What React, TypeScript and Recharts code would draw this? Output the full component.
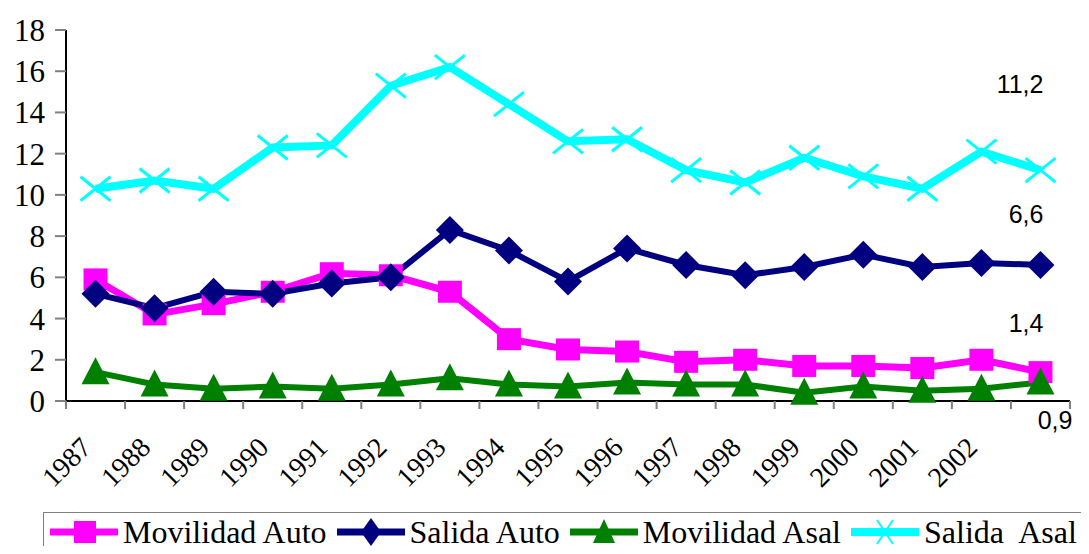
import { LineChart, Line, XAxis, YAxis, LabelList } from 'recharts'

// categories (last one has no printed label)
const years = ['1987', '1988', '1989', '1990', '1991', '1992', '1993', '1994', '1995', '1996', '1997', '1998', '1999', '2000', '2001', '2002', '']

const movilidadAuto = [5.9, 4.2, 4.7, 5.3, 6.2, 6.1, 5.3, 3.0, 2.5, 2.4, 1.9, 2.0, 1.7, 1.7, 1.6, 2.0, 1.4]
const salidaAuto = [5.2, 4.5, 5.3, 5.2, 5.7, 6.0, 8.3, 7.3, 5.8, 7.4, 6.6, 6.1, 6.5, 7.1, 6.5, 6.7, 6.6]
const movilidadAsal = [1.4, 0.8, 0.6, 0.7, 0.6, 0.8, 1.1, 0.8, 0.7, 0.9, 0.8, 0.8, 0.4, 0.7, 0.5, 0.6, 0.9]
const salidaAsal = [10.3, 10.7, 10.3, 12.3, 12.4, 15.3, 16.2, 14.4, 12.6, 12.7, 11.2, 10.6, 11.8, 10.9, 10.3, 12.1, 11.2]

const yTicks = [0, 2, 4, 6, 8, 10, 12, 14, 16, 18]
const xBounds = years.map((_, i) => i).concat(years.length)

const data = years.map((year, i) => ({
  pos: i + 0.5,
  year,
  movilidadAuto: movilidadAuto[i],
  salidaAuto: salidaAuto[i],
  movilidadAsal: movilidadAsal[i],
  salidaAsal: salidaAsal[i],
}))

const last = years.length - 1
const fmt = (v: number) => String(v).replace('.', ',')
const SERIF = '"Liberation Serif", "Times New Roman", serif'
const SANS = '"Liberation Sans", Arial, sans-serif'

function XTick(props: any) {
  const { x, y, payload } = props
  const label = years[payload.value] || ''
  if (!label) return null
  return (
    <text
      x={0}
      y={0}
      transform={`translate(${x + 27},${y + 38}) rotate(-45)`}
      textAnchor="end"
      fontFamily={SERIF}
      fontSize={28}
      fill="#000"
    >
      {label}
    </text>
  )
}

function YTick(props: any) {
  const { x, y, payload } = props
  return (
    <text x={x} y={y} dy={11} textAnchor="end" fontFamily={SERIF} fontSize={31} fill="#000">
      {payload.value}
    </text>
  )
}

const SquareDot = (p: any) => (
  <rect key={`sq-${p.index}`} x={p.cx - 12} y={p.cy - 11} width={24} height={22} fill="#FF00FF" />
)
const DiamondDot = (p: any) => (
  <polygon
    key={`dm-${p.index}`}
    points={`${p.cx},${p.cy - 14} ${p.cx + 14},${p.cy} ${p.cx},${p.cy + 14} ${p.cx - 14},${p.cy}`}
    fill="#000080"
  />
)
const TriangleDot = (p: any) => (
  <polygon
    key={`tr-${p.index}`}
    points={`${p.cx},${p.cy - 15} ${p.cx + 14},${p.cy + 12} ${p.cx - 14},${p.cy + 12}`}
    fill="#008000"
  />
)
const CrossDot = (p: any) => (
  <g key={`x-${p.index}`} stroke="#00FFFF" strokeWidth={3}>
    <line x1={p.cx - 15} y1={p.cy - 12} x2={p.cx + 15} y2={p.cy + 12} />
    <line x1={p.cx - 15} y1={p.cy + 12} x2={p.cx + 15} y2={p.cy - 12} />
  </g>
)

// value label on the final point of each series
const endLabel = (dx: number, dy: number) => (p: any) => {
  if (p.index !== last) return null
  return (
    <text x={p.x + dx} y={p.y + dy} textAnchor="end" fontFamily={SANS} fontSize={25} fill="#000">
      {fmt(p.value)}
    </text>
  )
}

function LegendMark({ color, kind }: { color: string; kind: string }) {
  return (
    <svg width={68} height={30} style={{ display: 'block' }}>
      <line x1={0} y1={15} x2={68} y2={15} stroke={color} strokeWidth={kind === 'x' ? 8 : 7} />
      {kind === 'square' && <rect x={24} y={4} width={22} height={22} fill={color} />}
      {kind === 'diamond' && <polygon points="34,1 44,15 34,29 24,15" fill={color} />}
      {kind === 'triangle' && <polygon points="34,2 45,26 23,26" fill={color} />}
      {kind === 'x' && (
        <g stroke={color} strokeWidth={2}>
          <line x1={26} y1={3} x2={42} y2={27} />
          <line x1={26} y1={27} x2={42} y2={3} />
        </g>
      )}
    </svg>
  )
}

const legendItems = [
  { name: 'Movilidad Auto', color: '#FF00FF', kind: 'square' },
  { name: 'Salida Auto', color: '#000080', kind: 'diamond' },
  { name: 'Movilidad Asal', color: '#008000', kind: 'triangle' },
  { name: 'Salida\u00a0 Asal', color: '#00FFFF', kind: 'x' },
]

export default function App() {
  return (
    <div style={{ position: 'relative', width: 1089, height: 554, margin: -8, background: '#fff', overflow: 'hidden' }}>
      <LineChart width={1089} height={554} data={data} margin={{ top: 30, right: 19, left: 0, bottom: 0 }}>
        <XAxis
          dataKey="pos"
          type="number"
          domain={[0, years.length]}
          ticks={xBounds}
          interval={0}
          height={153}
          axisLine={{ stroke: '#000', strokeWidth: 2 }}
          tickLine={{ stroke: '#808080', strokeWidth: 2 }}
          tickSize={8}
          tick={<XTick />}
        />
        <XAxis xAxisId="top" orientation="top" type="number" domain={[0, years.length]} height={0} tick={false} tickLine={false} axisLine={{ stroke: '#000', strokeWidth: 1 }} />
        <YAxis
          domain={[0, 18]}
          ticks={yTicks}
          interval={0}
          width={66}
          axisLine={{ stroke: '#000', strokeWidth: 2 }}
          tickLine={{ stroke: '#808080', strokeWidth: 2 }}
          tickSize={11}
          tickMargin={10}
          tick={<YTick />}
        />
        <YAxis yAxisId="right" orientation="right" domain={[0, 18]} width={0} tick={false} tickLine={false} axisLine={{ stroke: '#000', strokeWidth: 1 }} />
        <Line dataKey="movilidadAuto" stroke="#FF00FF" strokeWidth={7} dot={SquareDot} isAnimationActive={false}>
          <LabelList dataKey="movilidadAuto" content={endLabel(3, -40)} />
        </Line>
        <Line dataKey="salidaAuto" stroke="#000080" strokeWidth={6} dot={DiamondDot} isAnimationActive={false}>
          <LabelList dataKey="salidaAuto" content={endLabel(3, -42)} />
        </Line>
        <Line dataKey="movilidadAsal" stroke="#008000" strokeWidth={6} dot={TriangleDot} isAnimationActive={false}>
          <LabelList dataKey="movilidadAsal" content={endLabel(32, 47)} />
        </Line>
        <Line dataKey="salidaAsal" stroke="#00FFFF" strokeWidth={8} dot={CrossDot} isAnimationActive={false}>
          <LabelList dataKey="salidaAsal" content={endLabel(3, -77)} />
        </Line>
      </LineChart>
      <div
        style={{
          position: 'absolute',
          left: 43,
          top: 512,
          width: 1100,
          height: 60,
          border: '1px solid #808080',
          background: '#fff',
          display: 'flex',
          alignItems: 'center',
          paddingLeft: 6,
          boxSizing: 'border-box',
          fontFamily: SERIF,
          fontSize: 32,
          whiteSpace: 'nowrap',
        }}
      >
        {legendItems.map((it) => (
          <div key={it.name} style={{ display: 'flex', alignItems: 'center', marginRight: 10, marginTop: -20 }}>
            <LegendMark color={it.color} kind={it.kind} />
            <span style={{ marginLeft: 5 }}>{it.name}</span>
          </div>
        ))}
      </div>
    </div>
  )
}
